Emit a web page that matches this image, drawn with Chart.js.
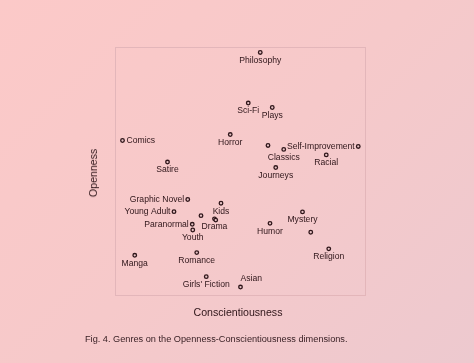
<!DOCTYPE html>
<html>
<head>
<meta charset="utf-8">
<script src="https://cdn.jsdelivr.net/npm/chart.js@4.4.0/dist/chart.umd.min.js"></script>
<style>
  html, body { margin: 0; padding: 0; }
  body {
    width: 474px; height: 363px; overflow: hidden; position: relative;
    background: linear-gradient(135deg, #fcc9c8 0%, #f6c9ca 50%, #edc9cf 100%);
    font-family: "Liberation Sans", Arial, sans-serif; color: #2e1519;
  }
  #wrap { position: absolute; left: 0; top: 0; width: 474px; height: 363px; }
  .lbl { position: absolute; white-space: nowrap; }
  #xt { left: 238px; top: 312px; transform: translate(-50%, -50%); font-size: 10.6px; }
  #yt { left: 93px; top: 173px; transform: translate(-50%, -50%) rotate(-90deg); font-size: 10.6px; }
  #cap { left: 85px; top: 339px; transform: translateY(-50%); font-size: 9.2px; color: #3a2226; }
</style>
</head>
<body>
<div id="wrap"><canvas id="myChartGenres" width="474" height="363"></canvas></div>
<div class="lbl" id="xt">Conscientiousness</div>
<div class="lbl" id="yt">Openness</div>
<div class="lbl" id="cap">Fig. 4. Genres on the Openness-Conscientiousness dimensions.</div>
<script>
// genre names ('' = point without a label)
const genres = ['Philosophy', 'Sci-Fi', 'Plays', 'Comics', 'Horror', '', 'Classics', 'Self-Improvement',
  'Racial', 'Satire', 'Journeys', 'Graphic Novel', 'Young Adult', 'Kids', '', 'Drama', '',
  'Paranormal', 'Youth', 'Humor', 'Mystery', '', 'Religion', 'Manga', 'Romance', "Girls' Fiction", 'Asian'];
const conscientiousness = [58.1, 53.3, 62.9, 3.0, 46.1, 61.2, 67.5, 97.3,
  84.5, 21.0, 64.3, 29.1, 23.6, 42.4, 34.4, 39.8, 40.3,
  30.9, 31.1, 62.0, 75.0, 78.3, 85.5, 7.9, 32.7, 36.5, 50.2];
const openness = [97.8, 77.4, 75.6, 62.3, 64.7, 60.3, 58.7, 59.9,
  56.5, 53.6, 51.4, 38.5, 33.6, 37.0, 32.0, 30.7, 30.2,
  28.5, 26.2, 28.9, 33.5, 25.3, 18.6, 16.0, 17.1, 7.4, 3.2];
// where each label sits relative to its point
const labelSide = ['below', 'below', 'below', 'right', 'below', '', 'below', 'left',
  'below', 'below', 'below', 'left', 'left', 'below', '', 'below', '',
  'left', 'below', 'below', 'below', '', 'below', 'below', 'below', 'below', 'aboveright'];

const pointLabels = {
  id: 'pointLabels',
  beforeDatasetsDraw(chart) {
    const a = chart.chartArea, c = chart.ctx;
    c.save();
    c.strokeStyle = '#e3b6ba';
    c.lineWidth = 1;
    c.strokeRect(a.left + 0.5, a.top + 0.5, a.right - a.left, a.bottom - a.top);
    c.restore();
  },
  afterDatasetsDraw(chart) {
    const c = chart.ctx;
    const meta = chart.getDatasetMeta(0);
    c.save();
    c.font = '8.6px "Liberation Sans", Arial, sans-serif';
    c.fillStyle = '#2e1519';
    meta.data.forEach((p, i) => {
      const t = genres[i], s = labelSide[i];
      if (!t) return;
      if (s === 'below') { c.textAlign = 'center'; c.textBaseline = 'middle'; c.fillText(t, p.x, p.y + 8); }
      if (s === 'right') { c.textAlign = 'left'; c.textBaseline = 'middle'; c.fillText(t, p.x + 4, p.y); }
      if (s === 'left') { c.textAlign = 'right'; c.textBaseline = 'middle'; c.fillText(t, p.x - 3.5, p.y); }
      if (s === 'aboveright') { c.textAlign = 'left'; c.textBaseline = 'middle'; c.fillText(t, p.x, p.y - 8); }
    });
    c.restore();
  }
};

const ctx = document.getElementById('myChartGenres').getContext('2d');
new Chart(ctx, {
  type: 'scatter',
  data: {
    datasets: [{
      label: 'Genres',
      data: conscientiousness.map((x, i) => ({ x: x, y: openness[i] })),
      pointRadius: 1.8,
      pointBorderWidth: 1.3,
      pointBackgroundColor: '#e9c3c6',
      pointBorderColor: '#2e1519'
    }]
  },
  options: {
    responsive: false,
    animation: false,
    layout: { padding: { left: 115, right: 109, top: 47, bottom: 68 } },
    plugins: { legend: { display: false }, tooltip: { enabled: false } },
    scales: {
      x: { display: false, min: 0, max: 100 },
      y: { display: false, min: 0, max: 100 }
    }
  },
  plugins: [pointLabels]
});
</script>
</body>
</html>
